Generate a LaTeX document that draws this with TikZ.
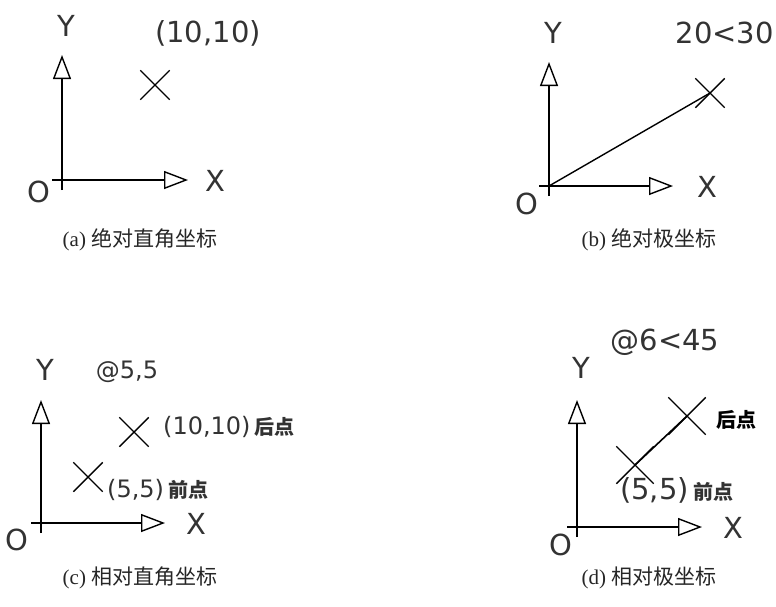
\documentclass[tikz,border=0pt]{standalone}
\usepackage{fontspec}
\setmainfont{Liberation Serif}
\newfontfamily\cadfont{DejaVu Sans}
\newfontfamily\cjk{Noto Sans CJK SC}
\usetikzlibrary{arrows.meta,shapes.misc}

\tikzset{
  axis/.style={line width=1.6pt,-{Triangle[open,length=24pt,width=18pt,line width=1.4pt]}},
  cadtext/.style={font=\cadfont\fontsize{29}{29}\selectfont,text=black!80,inner sep=0pt},
  smalltext/.style={cadtext,font=\cadfont\fontsize{24}{24}\selectfont},
  xmark/.style={draw,cross out,line width=1.4pt,minimum size=#1,inner sep=0pt},
  xmark/.default=28pt,
  caption/.style={font=\fontsize{21}{21}\selectfont,text=black!85,inner sep=0pt},
  tag/.style={font=\cjk\bfseries\fontsize{20}{20}\selectfont,inner sep=0pt}
}

\begin{document}
\begin{tikzpicture}[x=1pt,y=-1pt]
\useasboundingbox (0,0) rectangle (776,606);
% (a)
\coordinate (oa) at (62,180);
\draw[line width=1.6pt] (62,190) -- (oa) -- (52,180);
\draw[axis] (oa) -- (62,55);
\draw[axis] (oa) -- (188,180);
\node[cadtext] (ya) at (66,26) {Y};
\node[cadtext] (xa) at (215,181) {X};
\node[cadtext] (oalab) at (39,192) {O};
\node[cadtext] (pa) at (208,33) {(10,10)};
\node[xmark] (ca) at (155,85) {};
\node[caption] (capa) at (140,240) {(a) {\cjk 绝对直角坐标}};
% (b)
\coordinate (ob) at (549,186);
\draw[line width=1.6pt] (549,196) -- (ob) -- (539,186);
\draw[axis] (ob) -- (549,62);
\draw[axis] (ob) -- (673,186);
\node[cadtext] (yb) at (553,33) {Y};
\node[cadtext] (xb) at (707,187) {X};
\node[cadtext] (oblab) at (527,204) {O};
\node[cadtext,anchor=east] (pb) at (774,33) {20<30};
\node[xmark] (cb) at (710,93) {};
\draw[line width=1.4pt] (ob) -- (cb.center);
\node[caption] (capb) at (649,240) {(b) {\cjk 绝对极坐标}};
% (c)
\coordinate (oc) at (41,523);
\draw[line width=1.6pt] (41,533) -- (oc) -- (31,523);
\draw[axis] (oc) -- (41,400);
\draw[axis] (oc) -- (165,523);
\node[cadtext] (yc) at (45,370) {Y};
\node[cadtext] (xc) at (196,524) {X};
\node[cadtext] (oclab) at (17,540) {O};
\node[smalltext] (pc) at (127,372) {@5,5};
\node[xmark] (cc1) at (134,432) {};
\node[xmark] (cc2) at (88,477) {};
\node[smalltext,anchor=west] (lc1) at (163,427) {(10,10)\,{\tikz[baseline]\node[tag,anchor=base]{后点};}};
\node[smalltext,anchor=west] (lc2) at (107,490) {(5,5)\,{\tikz[baseline]\node[tag,anchor=base]{前点};}};
\node[caption] (capc) at (140,578) {(c) {\cjk 相对直角坐标}};
% (d)
\coordinate (od) at (577,527);
\draw[line width=1.6pt] (577,537) -- (od) -- (567,527);
\draw[axis] (od) -- (577,400);
\draw[axis] (od) -- (702,527);
\node[cadtext] (yd) at (581,368) {Y};
\node[cadtext] (xd) at (733,528) {X};
\node[cadtext] (odlab) at (561,545) {O};
\node[cadtext] (pd) at (665,342) {@6<45};
\node[xmark=36pt] (cd1) at (687,416) {};
\node[xmark=36pt] (cd2) at (635,465) {};
\draw[line width=1.6pt] (cd2.center) -- (cd1.center);
\node[tag,anchor=west] (ld1) at (716,420) {后点};
\node[cadtext,anchor=west] (ld2) at (620,490) {(5,5)\,{\tikz[baseline]\node[tag,anchor=base]{前点};}};
\node[caption] (capd) at (649,578) {(d) {\cjk 相对极坐标}};
\end{tikzpicture}
\end{document}
